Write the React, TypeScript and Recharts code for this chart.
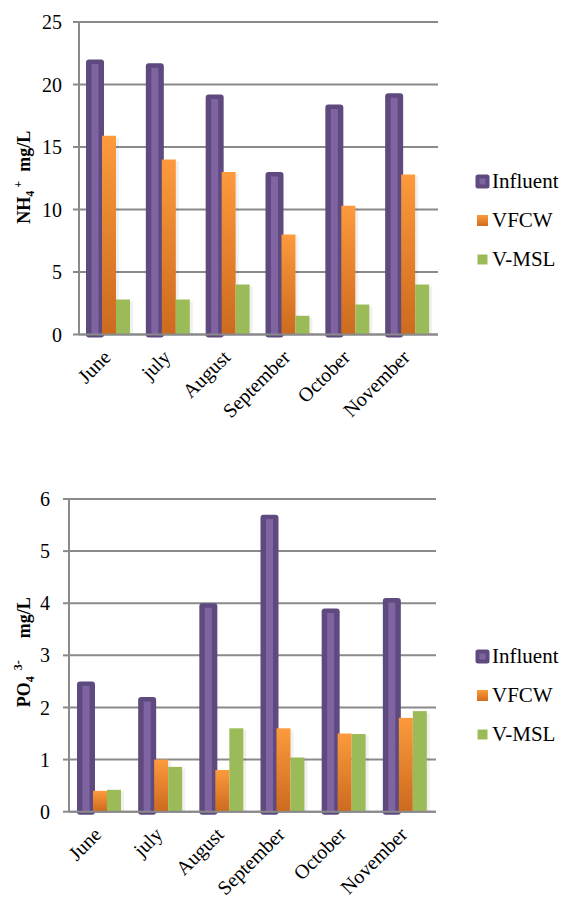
import { BarChart, Bar, XAxis, YAxis, CartesianGrid, Legend, Label } from "recharts";

const months = ["June", "july", "August", "September", "October", "November"];

const nh4Influent = [22, 21.7, 19.2, 13, 18.4, 19.3];
const nh4Vfcw = [15.9, 14, 13, 8, 10.3, 12.8];
const nh4Vmsl = [2.8, 2.8, 4, 1.5, 2.4, 4];
const nh4Ticks = [0, 5, 10, 15, 20, 25];

const po4Influent = [2.5, 2.2, 4.0, 5.7, 3.9, 4.1];
const po4Vfcw = [0.4, 1.0, 0.8, 1.6, 1.5, 1.8];
const po4Vmsl = [0.42, 0.86, 1.6, 1.04, 1.49, 1.93];
const po4Ticks = [0, 1, 2, 3, 4, 5, 6];

const seriesNames = ["Influent", "VFCW", "V-MSL"];

const FONT = "Liberation Serif, Times New Roman, serif";
const GRID = "#8a8a8a";
const PURPLE_DARK = "#5e4a7e";
const PURPLE = "#8064a2";
const GREEN = "#9bbb59";

function buildRows(a: number[], b: number[], c: number[]) {
  return months.map((m, i) => ({ month: m, influent: a[i], vfcw: b[i], vmsl: c[i] }));
}

const nh4Rows = buildRows(nh4Influent, nh4Vfcw, nh4Vmsl);
const po4Rows = buildRows(po4Influent, po4Vfcw, po4Vmsl);

function InfluentBar(props: any) {
  const { x, y, width, height } = props;
  if (height == null || height <= 0) return null;
  return (
    <g>
      <rect x={x - 2} y={y} width={width + 4} height={height + 3} rx={3} fill={PURPLE_DARK} />
      <rect x={x + 3.5} y={y + 4.5} width={width - 7} height={Math.max(0, height - 4.5)} fill={PURPLE} />
    </g>
  );
}

function makeFlatBar(fill: string) {
  return function FlatBar(props: any) {
    const { x, y, width, height } = props;
    if (height == null || height <= 0) return null;
    return (
      <g>
        <rect x={x + width} y={y + 2} width={3} height={height - 2} fill="#000" opacity={0.06} />
        <rect x={x} y={y} width={width} height={height} fill={fill} />
      </g>
    );
  };
}

function MonthTick(props: any) {
  const { x, y, payload } = props;
  return (
    <text
      x={0}
      y={0}
      transform={`translate(${x + 3},${y + 24}) rotate(-45)`}
      textAnchor="end"
      fontFamily={FONT}
      fontSize={20}
      fill="#000"
    >
      {payload.value}
    </text>
  );
}

function LegendBox({ gradId }: { gradId: string }) {
  const icons = [
    <svg width={15} height={15} key="i">
      <rect x={0.5} y={0.5} width={14} height={14} rx={2.5} fill={PURPLE_DARK} />
      <rect x={4.5} y={4.5} width={6} height={6} fill={PURPLE} />
    </svg>,
    <svg width={15} height={15} key="v">
      <rect x={2} y={2} width={11} height={11} fill={`url(#${gradId}-lg)`} />
      <defs>
        <linearGradient id={`${gradId}-lg`} x1="0" y1="0" x2="0" y2="1">
          <stop offset="0%" stopColor="#fc9a3c" />
          <stop offset="100%" stopColor="#d06c20" />
        </linearGradient>
      </defs>
    </svg>,
    <svg width={15} height={15} key="g">
      <rect x={2.5} y={2.5} width={10} height={10} fill={GREEN} />
    </svg>,
  ];
  return (
    <div style={{ width: 90, fontFamily: FONT, fontSize: 21, color: "#000" }}>
      {seriesNames.map((n, i) => (
        <div key={n} style={{ display: "flex", alignItems: "center", height: 39 }}>
          <span style={{ display: "inline-flex", width: 17 }}>{icons[i]}</span>
          <span>{n}</span>
        </div>
      ))}
    </div>
  );
}

function YTitle({ cy, kind }: { cy: number; kind: string }) {
  const common = { fontFamily: FONT, fontWeight: "bold" as const, fill: "#000", fontSize: 18 };
  if (kind === "nh4") {
    return (
      <text transform={`translate(30,${cy}) rotate(-90)`} textAnchor="middle" {...common}>
        <tspan>NH</tspan>
        <tspan fontSize={12} dy={4}>4</tspan>
        <tspan fontSize={12} dx={3} dy={-12}>+</tspan>
        <tspan dx={9} dy={8}>mg/L</tspan>
      </text>
    );
  }
  return (
    <text transform={`translate(30,${cy}) rotate(-90)`} textAnchor="middle" {...common}>
      <tspan>PO</tspan>
      <tspan fontSize={12} dy={4}>4</tspan>
      <tspan fontSize={12} dx={6} dy={-12}>3-</tspan>
      <tspan dx={22} dy={8}>mg/L</tspan>
    </text>
  );
}

interface ChartProps {
  rows: any[];
  ticks: number[];
  max: number;
  kind: string;
  height: number;
  top: number;
  yWidth: number;
  rightMargin: number;
  xHeight: number;
  bottom: number;
  tickMargin: number;
  legendTop: number;
  titleShift: number;
}

function NutrientChart(p: ChartProps) {
  const gradId = `grad-${p.kind}`;
  const plotCenter = p.top + (p.height - p.top - p.bottom - p.xHeight) / 2 + p.titleShift;
  return (
    <BarChart
      width={563}
      height={p.height}
      data={p.rows}
      margin={{ top: p.top, right: p.rightMargin, left: 0, bottom: p.bottom }}
      barGap={0}
      barSize={14}
    >
      <defs>
        <linearGradient id={gradId} x1="0" y1="0" x2="0" y2="1">
          <stop offset="0%" stopColor="#fc9a3c" />
          <stop offset="100%" stopColor="#cc6a1f" />
        </linearGradient>
      </defs>
      <CartesianGrid vertical={false} stroke={GRID} strokeWidth={2} />
      <XAxis
        dataKey="month"
        height={p.xHeight}
        interval={0}
        tickSize={0}
        tickMargin={0}
        tick={<MonthTick />}
        axisLine={{ stroke: GRID, strokeWidth: 2 }}
        tickLine={false}
      />
      <YAxis
        width={p.yWidth}
        domain={[0, p.max]}
        ticks={p.ticks}
        interval={0}
        tickSize={6}
        tickMargin={p.tickMargin}
        axisLine={{ stroke: GRID, strokeWidth: 2 }}
        tickLine={{ stroke: GRID, strokeWidth: 2 }}
        tick={{ fill: "#000", fontSize: 20, fontFamily: FONT }}
      >
        <Label content={() => <YTitle cy={plotCenter} kind={p.kind} />} />
      </YAxis>
      <Legend
        layout="vertical"
        align="right"
        verticalAlign="middle"
        width={90}
        wrapperStyle={{ left: 475, top: p.legendTop, width: 90 }}
        content={() => <LegendBox gradId={gradId} />}
      />
      <Bar dataKey="influent" name="Influent" fill={PURPLE} shape={InfluentBar} isAnimationActive={false} />
      <Bar dataKey="vfcw" name="VFCW" fill="#f79646" shape={makeFlatBar(`url(#${gradId})`)} isAnimationActive={false} />
      <Bar dataKey="vmsl" name="V-MSL" fill={GREEN} shape={makeFlatBar(GREEN)} isAnimationActive={false} />
    </BarChart>
  );
}

export default function App() {
  return (
    <div style={{ position: "absolute", left: 0, top: 0, width: 563, height: 899, background: "#fff", overflow: "hidden" }}>
      <div style={{ position: "absolute", left: 0, top: 0 }}>
        <NutrientChart
          rows={nh4Rows}
          ticks={nh4Ticks}
          max={25}
          kind="nh4"
          height={450}
          top={22}
          yWidth={79}
          rightMargin={35}
          xHeight={110}
          bottom={5.5}
          tickMargin={11}
          legendTop={162}
          titleShift={-1}
        />
      </div>
      <div style={{ position: "absolute", left: 0, top: 450 }}>
        <NutrientChart
          rows={po4Rows}
          ticks={po4Ticks}
          max={6}
          kind="po4"
          height={449}
          top={49}
          yWidth={69}
          rightMargin={37}
          xHeight={80}
          bottom={7.3}
          tickMargin={13}
          legendTop={187}
          titleShift={-3}
        />
      </div>
    </div>
  );
}
